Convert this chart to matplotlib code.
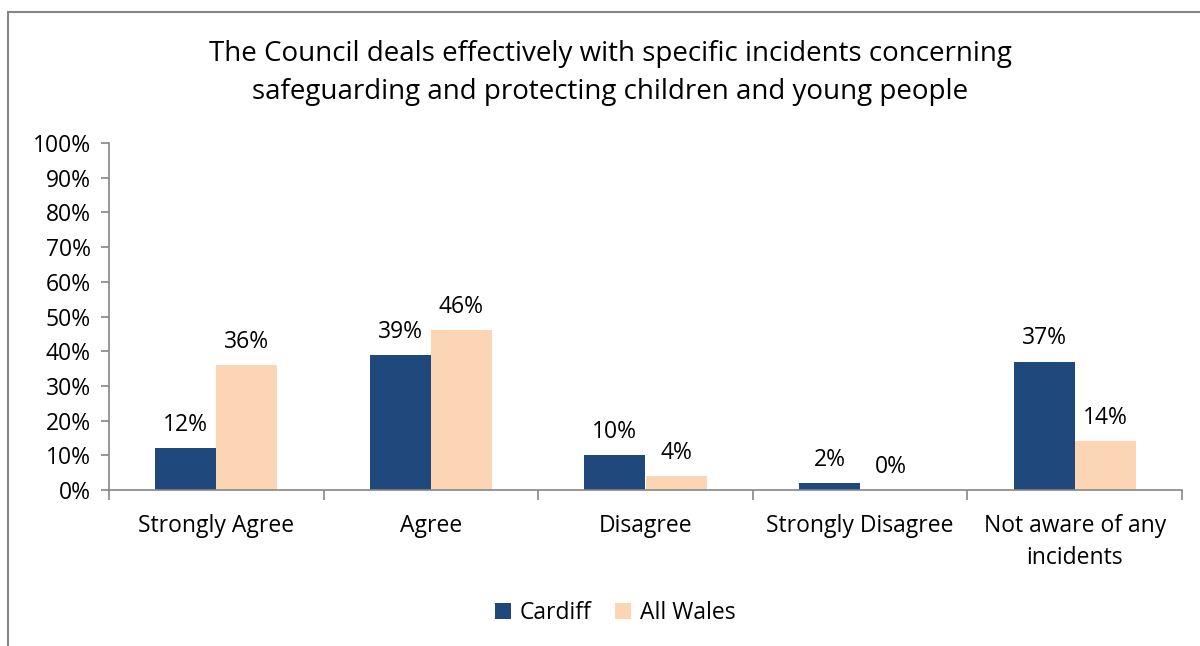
import matplotlib
matplotlib.use("Agg")
import matplotlib.pyplot as plt
import numpy as np
from matplotlib.patches import Rectangle

categories = ["Strongly Agree", "Agree", "Disagree", "Strongly Disagree", "Not aware of any\nincidents"]
cardiff = [12, 39, 10, 2, 37]
all_wales = [36, 46, 4, 0, 14]
series_names = ["Cardiff", "All Wales"]
yticks = list(range(0, 101, 10))
title = "The Council deals effectively with specific incidents concerning\nsafeguarding and protecting children and young people"

c_cardiff = "#1F497D"
c_wales = "#FCD5B5"
gray = "#868686"

plt.rcParams['font.family'] = ['Open Sans', 'DejaVu Sans']

fig = plt.figure(figsize=(12, 6.46), dpi=100)
# outer chart frame (cropped at right/bottom)
fig.patches.append(Rectangle((8/1200, -0.1), 1.2, 1 - 12/646 + 0.1, transform=fig.transFigure,
                             fill=False, edgecolor=gray, linewidth=1.5))

ax = fig.add_axes([109/1200, 1 - 490/646, (1182 - 109)/1200, (490 - 143)/646])
x = np.arange(len(categories))
w = 0.285
b1 = ax.bar(x - w/2, cardiff, w, color=c_cardiff, label=series_names[0])
b2 = ax.bar(x + w/2, all_wales, w, color=c_wales, label=series_names[1])

for bars, vals in ((b1, cardiff), (b2, all_wales)):
    for r, v in zip(bars, vals):
        ax.annotate(f"{v}%", (r.get_x() + r.get_width()/2, v), xytext=(0, 8),
                    textcoords="offset points", ha="center", va="bottom", fontsize=16.5)

ax.set_xlim(-0.5, len(categories) - 0.5)
ax.set_ylim(0, 100)
ax.set_yticks(yticks)
ax.set_yticklabels([f"{t}%" for t in yticks], fontsize=16.5)
ax.set_xticks(x)
ax.set_xticklabels(categories, fontsize=16.5, linespacing=1.45)
ax.tick_params(axis='x', length=0, pad=17)
ax.tick_params(axis='y', length=6, color=gray, width=1.2, pad=7)
ax.set_xticks(np.arange(-0.5, len(categories), 1), minor=True)
ax.tick_params(axis='x', which='minor', length=7, color=gray, width=1.2)
for s in ("top", "right"):
    ax.spines[s].set_visible(False)
for s in ("left", "bottom"):
    ax.spines[s].set_color(gray)
    ax.spines[s].set_linewidth(1.2)

fig.text(610/1200, 1 - 73/646, title, ha="center", va="center", fontsize=20, linespacing=1.5)

fig.legend(handles=[b1, b2], labels=series_names, loc="center", bbox_to_anchor=(615/1200, 1 - 613/646),
           ncol=2, frameon=False, fontsize=16.5, handlelength=0.7, handleheight=0.7,
           handletextpad=0.4, columnspacing=1.0)

fig.savefig("out.png", dpi=100)
